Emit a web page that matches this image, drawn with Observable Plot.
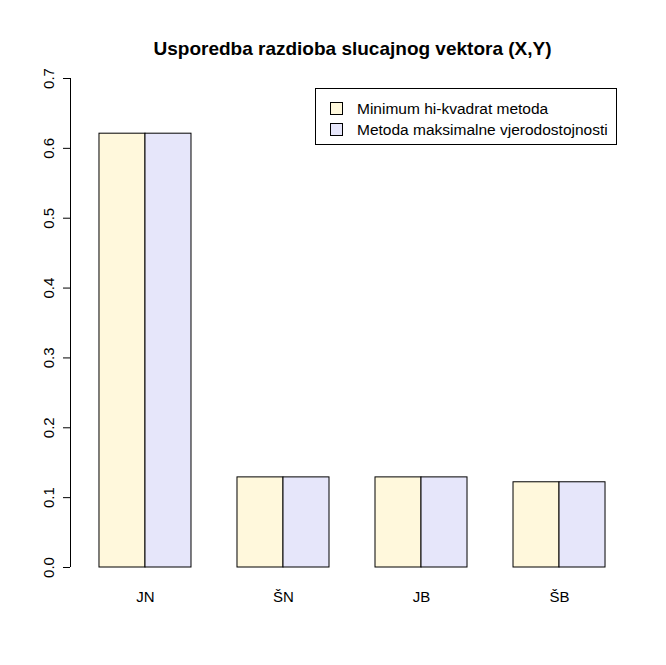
<!DOCTYPE html>
<html>
<head>
<meta charset="utf-8">
<script src="https://cdn.jsdelivr.net/npm/d3@7"></script>
<script src="https://cdn.jsdelivr.net/npm/@observablehq/plot@0.6"></script>
<style>
  body { margin: 0; background: #fff; font-family: "Liberation Sans", Arial, sans-serif; }
  #chart { position: relative; width: 666px; height: 665px; }
  #legend { position: absolute; left: 315px; top: 88px; width: 302px; height: 57px;
    border: 1px solid #000; background: #fff; font-size: 15.5px; box-sizing: border-box; padding: 9px 0 0 14px; }
  #legend div { display: flex; align-items: center; height: 21px; }
  #legend span.sw { width: 11px; height: 11px; border: 1px solid #000; margin-right: 14px; display: inline-block; }
</style>
</head>
<body>
<div id="chart"></div>
<script>
const categories = ["JN", "ŠN", "JB", "ŠB"];
const series = ["Minimum hi-kvadrat metoda", "Metoda maksimalne vjerodostojnosti"];
const minHi = [0.621, 0.129, 0.129, 0.122];
const mle = [0.621, 0.129, 0.129, 0.122];
const colors = ["#FFF8DC", "#E6E6FA"];

// R barplot layout: groups of 2 bars, one bar-width gap between groups
const rows = [];
categories.forEach((c, i) => {
  [minHi, mle].forEach((vals, j) => {
    rows.push({cat: c, s: series[j], x1: 1 + i * 3 + j, x2: 2 + i * 3 + j, value: vals[i]});
  });
});
const xDom = [0.37, 12.63];

const chart = Plot.plot({
  width: 666,
  height: 665,
  marginLeft: 70,
  marginRight: 32,
  marginTop: 78,
  marginBottom: 98,
  style: {fontFamily: "Liberation Sans, Arial, sans-serif", fontSize: "15px", color: "#000"},
  x: {domain: xDom, axis: null, label: null},
  y: {domain: [0, 0.7], axis: null, label: null},
  color: {domain: series, range: colors},
  marks: [
    Plot.rectY(rows, {x1: "x1", x2: "x2", y: "value", fill: "s", stroke: "#000", strokeWidth: 1}),
    Plot.axisY({ticks: d3.range(0, 0.71, 0.1), tickFormat: d3.format(".1f"), tickRotate: -90,
      tickSize: 7, tickPadding: 10, fontSize: 15, label: null}),
    Plot.ruleX([xDom[0]], {y1: 0, y2: 0.7}),
    Plot.axisX({ticks: categories.map((c, i) => 2 + i * 3), tickFormat: (d, i) => categories[i],
      tickSize: 0, tickPadding: 24, fontSize: 15, label: null}),
    Plot.text(["Usporedba razdioba slucajnog vektora (X,Y)"], {frameAnchor: "top", dy: -37,
      fontWeight: "bold", fontSize: 19})
  ]
});

d3.select("#chart").append(() => chart);
const lg = d3.select("#chart").append("div").attr("id", "legend");
series.forEach((s, j) => {
  const r = lg.append("div");
  r.append("span").attr("class", "sw").style("background", colors[j]);
  r.append("span").text(s);
});
</script>
</body>
</html>
